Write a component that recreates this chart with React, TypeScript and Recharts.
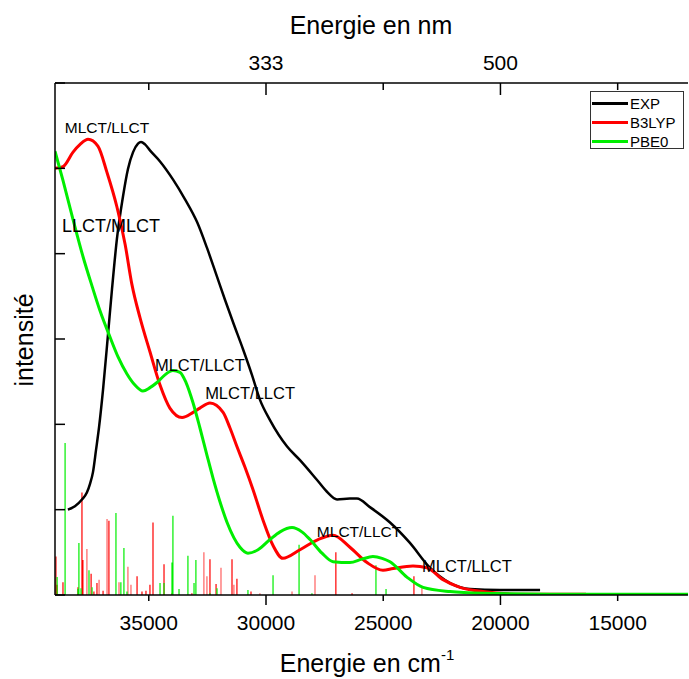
import { LineChart, Line, XAxis, YAxis, Legend, ReferenceDot } from 'recharts';

const FONT = "'Liberation Sans', Arial, Helvetica, sans-serif";

// experimental spectrum (cm-1 / intensity)
const expEnergy = [38450, 38150, 37850, 37640, 37510, 37380, 37250, 37120, 36950, 36740, 36570, 36360, 36100, 35890, 35670, 35460, 35330, 35160, 34950, 34520, 33970, 33460, 32940, 32520, 32090, 31750, 31370, 30980, 30600, 30260, 29830, 29100, 28550, 27830, 27400, 26970, 26420, 26120, 25570, 24710, 23860, 23010, 22150, 21300, 20020, 18310];
const expIntensity = [1.0, 1.04, 1.12, 1.2, 1.3, 1.44, 1.7, 1.97, 2.41, 3.05, 3.58, 4.17, 4.67, 4.99, 5.19, 5.29, 5.31, 5.28, 5.21, 5.08, 4.87, 4.64, 4.37, 4.07, 3.73, 3.46, 3.17, 2.88, 2.58, 2.29, 2.05, 1.74, 1.58, 1.35, 1.21, 1.12, 1.13, 1.13, 1.03, 0.85, 0.61, 0.32, 0.14, 0.07, 0.06, 0.06];

const b3lypEnergy = [39000, 38660, 38230, 37930, 37590, 37170, 36780, 36360, 36010, 35720, 35375, 34950, 34520, 34100, 33580, 33110, 32820, 32390, 31830, 31540, 31240, 30900, 30560, 30130, 29700, 29280, 28550, 27780, 27140, 26420, 25690, 25010, 24580, 23730, 23130, 22450, 21730, 20750, 19170, 16350];
const b3lypIntensity = [5.0, 5.02, 5.19, 5.28, 5.34, 5.26, 4.95, 4.55, 4.11, 3.64, 3.25, 2.85, 2.46, 2.19, 2.08, 2.14, 2.19, 2.25, 2.14, 1.96, 1.74, 1.5, 1.24, 0.88, 0.58, 0.43, 0.53, 0.65, 0.7, 0.56, 0.38, 0.29, 0.31, 0.34, 0.32, 0.18, 0.09, 0.04, 0.01, 0.01];

const pbe0Energy = [39000, 38660, 38230, 37810, 37420, 37080, 36650, 36310, 35930, 35590, 35250, 34950, 34650, 34310, 33970, 33670, 33410, 33110, 32820, 32520, 32260, 31960, 31660, 31110, 30770, 30340, 29830, 29400, 28890, 28470, 28120, 27610, 27140, 26420, 25910, 25440, 25050, 24710, 23990, 23300, 22150, 20750, 17890, 12000];
const pbe0Intensity = [5.2, 4.86, 4.4, 3.97, 3.62, 3.33, 3.02, 2.79, 2.59, 2.46, 2.39, 2.43, 2.49, 2.58, 2.63, 2.61, 2.49, 2.25, 1.96, 1.64, 1.37, 1.09, 0.85, 0.56, 0.49, 0.53, 0.65, 0.74, 0.79, 0.74, 0.65, 0.49, 0.39, 0.38, 0.42, 0.45, 0.43, 0.39, 0.21, 0.09, 0.04, 0.02, 0.01, 0.01];

// calculated transitions (sticks)
const b3lypStickEnergy = [38960, 38910, 38660, 38020, 37850, 37810, 37460, 37340, 37210, 36950, 36700, 35500, 35290, 35120, 34950, 34820, 34350, 34010, 33160, 32390, 32130, 31450, 31240, 30640, 27020, 26330, 23690];
const b3lypStickHeight = [0.45, 0.12, 0.15, 0.09, 1.2, 0.41, 0.25, 0.04, 0.14, 0.05, 0.87, 0.22, 0.04, 0.05, 0.12, 0.85, 0.36, 0.02, 0.02, 0.42, 0.13, 0.42, 0.19, 0.04, 0.5, 0.02, 0.22];
const b3lypWeakEnergy = [37640, 37120, 36780, 36270, 35890, 35760, 32650, 32520, 31920, 31370, 30260, 28890, 27910, 23350];
const b3lypWeakHeight = [0.54, 0.18, 0.89, 0.15, 0.33, 0.12, 0.5, 0.22, 0.32, 0.12, 0.02, 0.04, 0.23, 0.09];
const pbe0StickEnergy = [38910, 38570, 38020, 37980, 37890, 37550, 37420, 36400, 36190, 36060, 35930, 34520, 34350, 34010, 33970, 33710, 33330, 33070, 32990, 32390, 32090, 30770, 29700, 28590, 28040, 25310, 24880];
const pbe0StickHeight = [0.21, 1.78, 0.07, 0.61, 0.08, 0.29, 0.09, 0.96, 0.15, 0.55, 0.04, 0.14, 0.14, 0.38, 0.93, 0.07, 0.46, 0.14, 0.41, 0.02, 0.08, 0.06, 0.23, 0.59, 0.02, 0.35, 0.07];

// band assignments
const annoText = ['MLCT/LLCT', 'LLCT/MLCT', 'MLCT/LLCT', 'MLCT/LLCT', 'MLCT/LLCT', 'MLCT/LLCT'];
const annoEnergy = [36780, 36610, 32820, 30680, 26030, 21430];
const annoIntensity = [5.48, 4.33, 2.69, 2.36, 0.74, 0.34];
const annoSize = [15.5, 18, 16.5, 16.5, 15.5, 16.5];

const bottomTicks = [35000, 30000, 25000, 20000, 15000];
const topTickLabels = ['', '333', '', '500', ''];
const longTicks = [30000, 20000];
const yTicks = [0, 1, 2, 3, 4, 5, 6];

const series = [
  { name: 'EXP', color: '#000000' },
  { name: 'B3LYP', color: '#ff0000' },
  { name: 'PBE0', color: '#00ee00' },
];

const toPoints = (xs: number[], ys: number[]) => xs.map((x, i) => ({ x, y: ys[i] }));
const toSticks = (xs: number[], hs: number[]) =>
  xs.flatMap((x, i) => [{ x, y: 0 }, { x, y: hs[i] }, { x, y: null }]);

const PLOT_TOP = 83;
const PLOT_BOTTOM = 595;
const PLOT_LEFT = 55;

const BottomTick = ({ x, payload }: any) => (
  <g>
    <line x1={x} x2={x} y1={PLOT_BOTTOM} y2={PLOT_BOTTOM + (longTicks.includes(payload.value) ? 10 : 6)} stroke="#000" strokeWidth={1.5} />
    <text x={x} y={630} textAnchor="middle" fontSize={21} fontFamily={FONT} fill="#000">{payload.value}</text>
  </g>
);

const TopTick = ({ x, payload, index }: any) => (
  <g>
    <line x1={x} x2={x} y1={PLOT_TOP} y2={PLOT_TOP + (longTicks.includes(payload.value) ? 12 : 7)} stroke="#000" strokeWidth={1.5} />
    <text x={x} y={70} textAnchor="middle" fontSize={21} fontFamily={FONT} fill="#000">{topTickLabels[index]}</text>
  </g>
);

const LeftTick = ({ y }: any) => (
  <line x1={PLOT_LEFT} x2={PLOT_LEFT + 10} y1={y} y2={y} stroke="#000" strokeWidth={1.5} />
);

const BottomTitle = () => (
  <text x={367} y={672} textAnchor="middle" fontSize={25} fontFamily={FONT} fill="#000">
    Energie en cm<tspan fontSize={15} dy={-12}>-1</tspan>
  </text>
);

const TopTitle = () => (
  <text x={371} y={34} textAnchor="middle" fontSize={25} fontFamily={FONT} fill="#000">Energie en nm</text>
);

const LeftTitle = () => (
  <text x={33} y={340} transform="rotate(-90 33 340)" textAnchor="middle" fontSize={25} fontFamily={FONT} fill="#000">intensité</text>
);

const LegendBox = () => (
  <div style={{ width: 94, height: 58, boxSizing: 'border-box', border: '1px solid #333', background: '#fff', paddingTop: 2, fontFamily: FONT }}>
    {series.map((s) => (
      <div key={s.name} style={{ display: 'flex', alignItems: 'center', height: 19 }}>
        <div style={{ width: 36, height: 2.5, marginLeft: 1, background: s.color }} />
        <span style={{ marginLeft: 2, fontSize: 15, lineHeight: '19px', color: '#000' }}>{s.name}</span>
      </div>
    ))}
  </div>
);

export default function App() {
  return (
    <div style={{ position: 'absolute', left: 0, top: 0, background: '#fff' }}>
      <LineChart width={689} height={679} margin={{ top: 53, right: 1, bottom: 44, left: 25 }}>
        <XAxis dataKey="x" type="number" domain={[12000, 39000]} reversed allowDataOverflow ticks={bottomTicks}
          height={40} stroke="#000" strokeWidth={1.5} tickLine={false} tick={<BottomTick />} label={<BottomTitle />} />
        <XAxis xAxisId="top" orientation="top" dataKey="x" type="number" domain={[12000, 39000]} reversed allowDataOverflow
          ticks={bottomTicks} height={30} stroke="#000" strokeWidth={1.5} tickLine={false} tick={<TopTick />} label={<TopTitle />} />
        <YAxis type="number" domain={[0, 6]} ticks={yTicks} width={30} allowDataOverflow stroke="#000" strokeWidth={1.5}
          tickLine={false} tick={<LeftTick />} label={<LeftTitle />} />
        <YAxis yAxisId="right" orientation="right" type="number" domain={[0, 6]} width={0} stroke="#000" strokeWidth={1.5} tick={false} tickLine={false} />

        <Line data={toSticks(b3lypWeakEnergy, b3lypWeakHeight)} dataKey="y" type="linear" stroke="#ff8080" strokeWidth={1.5} dot={false} activeDot={false} legendType="none" isAnimationActive={false} />
        <Line data={toSticks(b3lypStickEnergy, b3lypStickHeight)} dataKey="y" type="linear" stroke="#ff0000" strokeWidth={1.2} dot={false} activeDot={false} legendType="none" isAnimationActive={false} />
        <Line data={toSticks(pbe0StickEnergy, pbe0StickHeight)} dataKey="y" type="linear" stroke="#00ee00" strokeWidth={1.2} dot={false} activeDot={false} legendType="none" isAnimationActive={false} />

        <Line data={toPoints(expEnergy, expIntensity)} dataKey="y" name="EXP" type="monotone" stroke="#000000" strokeWidth={2.5} dot={false} activeDot={false} isAnimationActive={false} />
        <Line data={toPoints(b3lypEnergy, b3lypIntensity)} dataKey="y" name="B3LYP" type="monotone" stroke="#ff0000" strokeWidth={3} dot={false} activeDot={false} isAnimationActive={false} />
        <Line data={toPoints(pbe0Energy, pbe0Intensity)} dataKey="y" name="PBE0" type="monotone" stroke="#00ee00" strokeWidth={3} dot={false} activeDot={false} isAnimationActive={false} />

        {annoText.map((t, i) => (
          <ReferenceDot key={i} x={annoEnergy[i]} y={annoIntensity[i]} r={0} fill="none" stroke="none" ifOverflow="visible"
            label={{ value: t, position: 'center', fontSize: annoSize[i], fill: '#000', fontFamily: FONT }} />
        ))}

        <Legend layout="vertical" align="center" verticalAlign="middle" content={<LegendBox />}
          wrapperStyle={{ left: 590, top: 91, width: 94, height: 58 }} />
      </LineChart>
    </div>
  );
}
